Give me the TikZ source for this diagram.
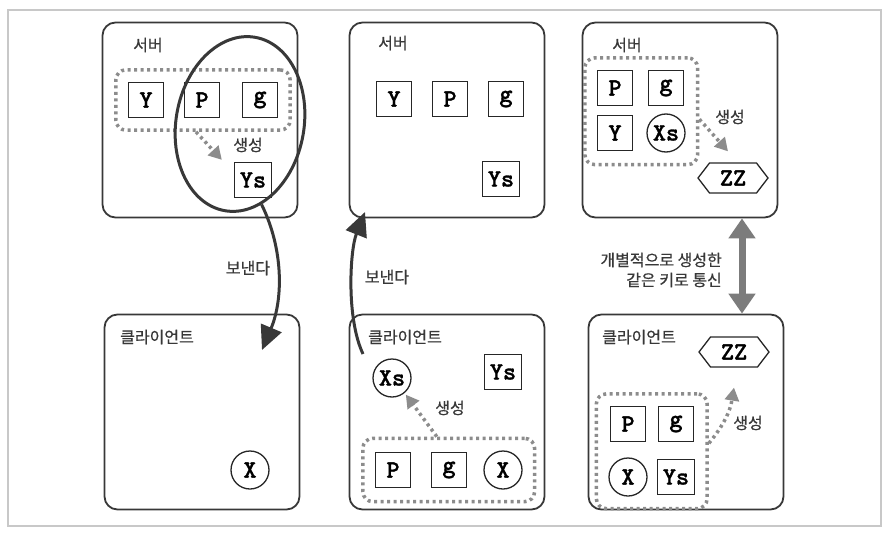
\documentclass[tikz,border=0pt]{standalone}
\usepackage{fontspec}
\usetikzlibrary{arrows.meta,shapes.geometric,shapes.symbols,fit}
\newfontfamily\kr{Noto Sans CJK KR}[FakeBold=0.6]
\newfontfamily\keyfont{lmmonolt10-bold.otf}[FakeBold=1.2]
\definecolor{ink}{HTML}{383838}
\definecolor{dots}{HTML}{8C8C8C}
\definecolor{sharegray}{HTML}{7C7C7C}
\definecolor{framegray}{HTML}{C8C8C8}

\begin{document}
\begin{tikzpicture}[x=1pt,y=-1pt,
    panel/.style={draw=ink,line width=1.8pt,rounded corners=13pt,minimum width=195pt,minimum height=195pt,inner sep=0pt},
    key/.style={draw=black!85,line width=1.3pt,minimum size=35pt,inner sep=0pt,font=\keyfont\fontsize{25}{25}\selectfont},
    val/.style={key,circle,minimum size=38pt},
    shared/.style={key,signal,signal to=east and west,signal pointer angle=105,minimum width=70pt,minimum height=30pt},
    group/.style={draw=dots,line width=3.5pt,dash pattern=on 3pt off 3.5pt,rounded corners=10pt,inner sep=12pt},
    gen/.style={draw=dots,line width=3.5pt,dash pattern=on 3pt off 3.5pt,-{Triangle[length=13pt,width=14pt]}},
    send/.style={draw=ink,line width=3pt,-{Triangle[length=24pt,width=22pt]}},
    txt/.style={text=ink,font=\kr\fontsize{16}{20}\selectfont,inner sep=0pt}]

\useasboundingbox (0,0) rectangle (892,538);
\draw[framegray,line width=2pt] (8,10) rectangle (881,526);

% Server, step 1
\node[panel] (srv1) at (200,120) {};
\node[txt,anchor=west] (lbl1) at (133,45) {서버};
\node[key] (y1) at (146,100) {Y};
\node[key] (p1) at (202,100) {P};
\node[key] (g1) at (260,100) {g};
\node[key,minimum width=37pt] (ys1) at (253,180) {Ys};
\node[group,fit=(y1)(p1)(g1)] (grp1) {};
\node[txt] (gen1) at (248,145) {생성};
\draw[gen] ([xshift=-7pt]grp1.south) -- ([shift={(-12pt,2pt)}]ys1.north west);

% Server, step 2
\node[panel] (srv2) at (447,120) {};
\node[txt,anchor=west] (lbl2) at (378,43) {서버};
\node[key] (y2) at (394,99) {Y};
\node[key] (p2) at (450,99) {P};
\node[key] (g2) at (506,99) {g};
\node[key,minimum width=37pt] (ys2) at (501,179) {Ys};

% Server, step 3
\node[panel] (srv3) at (680,120) {};
\node[txt,anchor=west] (lbl3) at (612,45) {서버};
\node[key] (p3) at (615,88) {P};
\node[key] (g3) at (666,88) {g};
\node[key] (y3) at (615,133) {Y};
\node[val] (xs3) at (666,133) {Xs};
\node[group,fit=(p3)(g3)(y3)(xs3)] (grp3) {};
\node[shared] (zz3) at (733,178) {ZZ};
\node[txt] (gen3) at (730,117) {생성};
\draw[gen] ([yshift=-8pt]grp3.east) -- ([shift={(-5pt,11pt)}]zz3.north);

% Client, step 1
\node[panel] (cli1) at (202,412) {};
\node[txt,anchor=west] (lbl4) at (120,337) {클라이언트};
\node[val] (x4) at (250,470) {X};

% Client, step 2
\node[panel] (cli2) at (447,412) {};
\node[txt,anchor=west] (lbl5) at (368,337) {클라이언트};
\node[val] (xs5) at (392,378) {Xs};
\node[key,minimum width=37pt] (ys5) at (503,372) {Ys};
\node[key] (p5) at (393,470) {P};
\node[key] (g5) at (449,470) {g};
\node[val] (x5) at (503,470) {X};
\node[group,fit=(p5)(g5)(x5)] (grp5) {};
\node[txt] (gen5) at (450,408) {생성};
\draw[gen,shorten >=2pt] ([xshift=-12pt]grp5.north) -- (xs5.-50);

% Client, step 3
\node[panel] (cli3) at (686,412) {};
\node[txt,anchor=west] (lbl6) at (602,337) {클라이언트};
\node[shared] (zz6) at (734,352) {ZZ};
\node[key] (p6) at (628,424) {P};
\node[key] (g6) at (676,424) {g};
\node[val] (x6) at (628,477) {X};
\node[key,minimum width=37pt] (ys6) at (676,477) {Ys};
\node[group,fit=(p6)(g6)(x6)(ys6)] (grp6) {};
\node[txt] (gen6) at (748,423) {생성};
\draw[gen] ([yshift=8pt]grp6.east) to[bend right=15] ([yshift=-20pt]zz6.south);

% Sending Ys and Xs
\node[draw=ink,line width=3pt,ellipse,rotate=-10,minimum width=128pt,minimum height=176pt] (loop1) at (240,124) {};
\coordinate (recv1) at (262,350);
\draw[send] (loop1.-65) .. controls (284,250) and (283,300) .. (recv1);
\node[txt] (sendlbl1) at (248,268) {보낸다};

\coordinate (out5) at (363,354);
\coordinate (recv2) at (365,212);
\draw[send] (out5) .. controls (346,318) and (350,250) .. (recv2);
\node[txt] (sendlbl2) at (387,277) {보낸다};

% Shared key
\draw[sharegray,line width=7pt,{Triangle[length=20pt,width=26pt]}-{Triangle[length=20pt,width=26pt]}]
    ([xshift=62pt]srv3.south) -- ([xshift=62pt]srv3.south |- cli3.north);
\node[txt,anchor=east,align=right] (sharelbl) at (722,270) {개별적으로 생성한\\같은 키로 통신};

\end{tikzpicture}
\end{document}
